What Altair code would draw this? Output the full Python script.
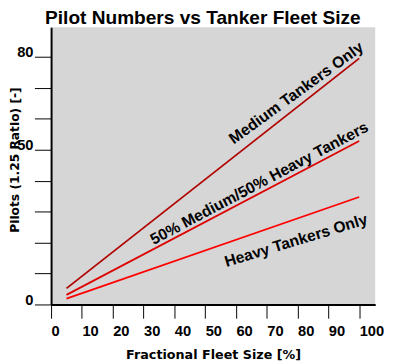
import altair as alt
import pandas as pd

# ---- data ----
fleet_pct = [5, 100]
medium_only = [5.2, 79.5]
mixed_50_50 = [3.1, 52.8]
heavy_only = [1.9, 34.7]
series_names = ["Medium Tankers Only", "50% Medium/50% Heavy Tankers", "Heavy Tankers Only"]
series_colors = ["#b00000", "#dd0000", "#ff0000"]
chart_title = "Pilot Numbers vs Tanker Fleet Size"

x_ticks = list(range(0, 101, 10))
y_ticks = list(range(0, 81, 10))
y_labelled = [0, 50, 80]

# annotation placement (data coordinates) and rotation
label_x = [79.6, 67.6, 79.5]
label_y = [68.3, 39.1, 20.6]
label_angle = [324, 332, 343]

rows = []
for name, vals in zip(series_names, [medium_only, mixed_50_50, heavy_only]):
    for xv, yv in zip(fleet_pct, vals):
        rows.append({"series": name, "x": xv, "y": yv})
df = pd.DataFrame(rows)
labels = pd.DataFrame({"series": series_names, "x": label_x, "y": label_y, "angle": label_angle})

FONT = "Liberation Sans"
TFONT = "DejaVu Sans"
xscale = alt.Scale(domain=[0, 105.2], nice=False, zero=False)
yscale = alt.Scale(domain=[0, 89.5], nice=False, zero=False)

x_axis = alt.Axis(
    values=x_ticks, title="Fractional Fleet Size [%]", grid=False,
    domainColor="black", domainWidth=2, tickColor="black", tickSize=14, tickWidth=1,
    labelAlign="left", labelBaseline="top", labelPadding=6, labelFlush=False, labelOverlap=False,
    labelFont=FONT, labelFontSize=15, labelFontWeight="bold", labelColor="black",
    titleFont=TFONT, titleFontSize=13, titleFontWeight="bold", titleColor="black",
    titleBaseline="alphabetic", titleY=54.7,
)
y_expr = " || ".join(f"datum.value == {v}" for v in y_labelled)
y_axis = alt.Axis(
    values=y_ticks, title="Pilots (1.25 Ratio) [-]", grid=False,
    domainColor="black", domainWidth=2, tickColor="black", tickSize=17, tickWidth=1,
    labelExpr=f"({y_expr}) ? datum.label : ''",
    labelAlign="right", labelBaseline="alphabetic", labelPadding=1.5, labelFlush=False, labelOverlap=False,
    labelFont=FONT, labelFontSize=15, labelFontWeight="bold", labelColor="black",
    titleFont=TFONT, titleFontSize=12.5, titleFontWeight="bold", titleColor="black",
    titleAngle=270, titleBaseline="alphabetic", titleAlign="center", titleX=-33.5, titleY=135,
)


def x_enc():
    return alt.X("x:Q", scale=xscale, axis=x_axis)


def y_enc():
    return alt.Y("y:Q", scale=yscale, axis=y_axis)


color = alt.Color("series:N", scale=alt.Scale(domain=series_names, range=series_colors), legend=None)

lines = alt.Chart(df).mark_line(strokeWidth=1.8).encode(
    x=x_enc(), y=y_enc(), color=color, detail="series:N",
)

texts = alt.Chart(labels).mark_text(
    font=FONT, fontSize=16, fontWeight="bold", color="black", align="center", baseline="middle"
).encode(
    x=x_enc(), y=y_enc(),
    text="series:N",
    angle=alt.Angle("angle:Q", scale=None),
)

title_mark = alt.Chart(pd.DataFrame({"t": [chart_title]})).mark_text(
    font=FONT, fontSize=19.5, fontWeight="bold", color="black", align="center", baseline="alphabetic"
).encode(
    x=alt.value(155), y=alt.value(-3.3), text="t:N",
)

chart = alt.layer(lines, texts, title_mark).properties(
    width=331, height=283,
    autosize=alt.AutoSizeParams(type="none"),
    padding={"left": 44, "top": 16, "right": 10, "bottom": 56},
    background="white",
).configure_view(fill="#d6d6d6", stroke=None)

chart.save("out.html", embed_options={"renderer": "svg", "actions": False})
